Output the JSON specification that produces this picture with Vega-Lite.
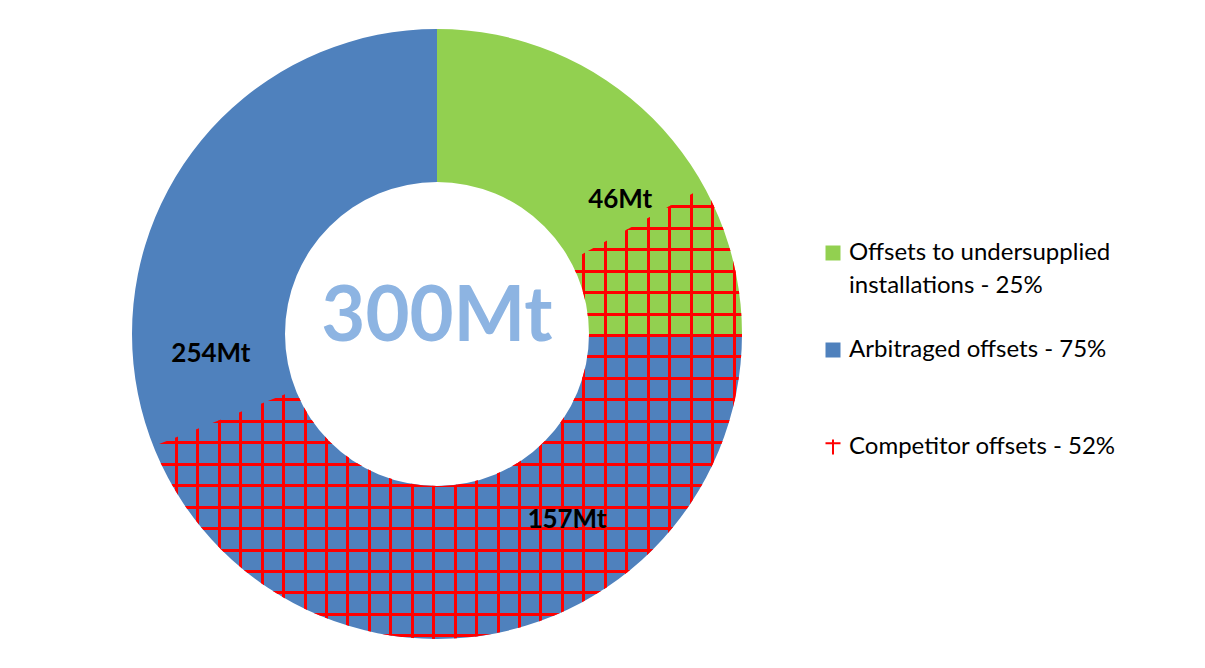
{
  "$schema": "https://vega.github.io/schema/vega-lite/v6.json",
  "width": 874,
  "height": 668,
  "autosize": {"type": "none"},
  "padding": {"left": 0, "top": 0, "right": 331, "bottom": 0},
  "background": "white",
  "config": {"view": {"stroke": null}, "font": "Lato"},
  "datasets": {
    "segments": [
      {"name": "Offsets to undersupplied installations - 25%", "start": 0, "end": 25},
      {"name": "Arbitraged offsets - 75%", "start": 25, "end": 100}
    ],
    "competitor": [
      {"name": "Competitor offsets - 52%", "start": 17, "end": 69}
    ],
    "labels": [
      {"label": "46Mt", "pos": 14.95},
      {"label": "254Mt", "pos": 73.6},
      {"label": "157Mt", "pos": 40.3}
    ],
    "total": [{"label": "300Mt"}]
  },
  "layer": [
    {
      "data": {"name": "segments"},
      "mark": {"type": "arc", "innerRadius": 152, "outerRadius": 305},
      "encoding": {
        "theta": {"field": "start", "type": "quantitative", "stack": null, "scale": {"domain": [0, 100]}},
        "theta2": {"field": "end"},
        "color": {
          "field": "name",
          "type": "nominal",
          "scale": {
            "domain": ["Offsets to undersupplied installations - 25%", "Arbitraged offsets - 75%", "Competitor offsets - 52%"],
            "range": ["#92D050", "#4F81BD", "#FF0000"]
          },
          "legend": {
            "orient": "none",
            "legendX": 821,
            "legendY": 241,
            "title": null,
            "symbolType": "square",
            "symbolSize": 225,
            "symbolStrokeWidth": 0,
            "labelFont": "Lato",
            "labelFontSize": 24,
            "labelColor": "#000000",
            "labelLimit": 0,
            "labelOffset": 4,
            "gridAlign": "all",
            "rowPadding": 40,
            "labelExpr": "datum.label === 'Offsets to undersupplied installations - 25%' ? ['Offsets to undersupplied', 'installations - 25%'] : datum.label",
            "encode": {
              "labels": {"update": {"lineHeight": {"value": 33}}},
              "symbols": {
                "update": {
                  "shape": {"signal": "datum.value === 'Competitor offsets - 52%' ? 'M-1,-0.5L1,-0.5M0,-1L0,1' : 'square'"},
                  "stroke": {"signal": "datum.value === 'Competitor offsets - 52%' ? '#FF0000' : 'transparent'"},
                  "strokeWidth": {"value": 2}
                }
              }
            }
          }
        }
      }
    },
    {
      "data": {"name": "competitor"},
      "mark": {
        "type": "arc",
        "innerRadius": 152,
        "outerRadius": 305,
        "fill": {
          "gradient": "linear", "x1": 0, "y1": 0, "x2": 1, "y2": 0,
          "stops": [
            {"offset": 0, "color": "rgba(255,0,0,0)"},
            {"offset": 0.0364, "color": "rgba(255,0,0,0)"}, {"offset": 0.0364, "color": "#FF0000"}, {"offset": 0.0415, "color": "#FF0000"}, {"offset": 0.0415, "color": "rgba(255,0,0,0)"},
            {"offset": 0.0729, "color": "rgba(255,0,0,0)"}, {"offset": 0.0729, "color": "#FF0000"}, {"offset": 0.0780, "color": "#FF0000"}, {"offset": 0.0780, "color": "rgba(255,0,0,0)"},
            {"offset": 0.1093, "color": "rgba(255,0,0,0)"}, {"offset": 0.1093, "color": "#FF0000"}, {"offset": 0.1144, "color": "#FF0000"}, {"offset": 0.1144, "color": "rgba(255,0,0,0)"},
            {"offset": 0.1458, "color": "rgba(255,0,0,0)"}, {"offset": 0.1458, "color": "#FF0000"}, {"offset": 0.1509, "color": "#FF0000"}, {"offset": 0.1509, "color": "rgba(255,0,0,0)"},
            {"offset": 0.1822, "color": "rgba(255,0,0,0)"}, {"offset": 0.1822, "color": "#FF0000"}, {"offset": 0.1873, "color": "#FF0000"}, {"offset": 0.1873, "color": "rgba(255,0,0,0)"},
            {"offset": 0.2186, "color": "rgba(255,0,0,0)"}, {"offset": 0.2186, "color": "#FF0000"}, {"offset": 0.2237, "color": "#FF0000"}, {"offset": 0.2237, "color": "rgba(255,0,0,0)"},
            {"offset": 0.2551, "color": "rgba(255,0,0,0)"}, {"offset": 0.2551, "color": "#FF0000"}, {"offset": 0.2602, "color": "#FF0000"}, {"offset": 0.2602, "color": "rgba(255,0,0,0)"},
            {"offset": 0.2915, "color": "rgba(255,0,0,0)"}, {"offset": 0.2915, "color": "#FF0000"}, {"offset": 0.2966, "color": "#FF0000"}, {"offset": 0.2966, "color": "rgba(255,0,0,0)"},
            {"offset": 0.3280, "color": "rgba(255,0,0,0)"}, {"offset": 0.3280, "color": "#FF0000"}, {"offset": 0.3331, "color": "#FF0000"}, {"offset": 0.3331, "color": "rgba(255,0,0,0)"},
            {"offset": 0.3644, "color": "rgba(255,0,0,0)"}, {"offset": 0.3644, "color": "#FF0000"}, {"offset": 0.3695, "color": "#FF0000"}, {"offset": 0.3695, "color": "rgba(255,0,0,0)"},
            {"offset": 0.4009, "color": "rgba(255,0,0,0)"}, {"offset": 0.4009, "color": "#FF0000"}, {"offset": 0.4060, "color": "#FF0000"}, {"offset": 0.4060, "color": "rgba(255,0,0,0)"},
            {"offset": 0.4373, "color": "rgba(255,0,0,0)"}, {"offset": 0.4373, "color": "#FF0000"}, {"offset": 0.4424, "color": "#FF0000"}, {"offset": 0.4424, "color": "rgba(255,0,0,0)"},
            {"offset": 0.4737, "color": "rgba(255,0,0,0)"}, {"offset": 0.4737, "color": "#FF0000"}, {"offset": 0.4788, "color": "#FF0000"}, {"offset": 0.4788, "color": "rgba(255,0,0,0)"},
            {"offset": 0.5102, "color": "rgba(255,0,0,0)"}, {"offset": 0.5102, "color": "#FF0000"}, {"offset": 0.5153, "color": "#FF0000"}, {"offset": 0.5153, "color": "rgba(255,0,0,0)"},
            {"offset": 0.5466, "color": "rgba(255,0,0,0)"}, {"offset": 0.5466, "color": "#FF0000"}, {"offset": 0.5517, "color": "#FF0000"}, {"offset": 0.5517, "color": "rgba(255,0,0,0)"},
            {"offset": 0.5831, "color": "rgba(255,0,0,0)"}, {"offset": 0.5831, "color": "#FF0000"}, {"offset": 0.5882, "color": "#FF0000"}, {"offset": 0.5882, "color": "rgba(255,0,0,0)"},
            {"offset": 0.6195, "color": "rgba(255,0,0,0)"}, {"offset": 0.6195, "color": "#FF0000"}, {"offset": 0.6246, "color": "#FF0000"}, {"offset": 0.6246, "color": "rgba(255,0,0,0)"},
            {"offset": 0.6559, "color": "rgba(255,0,0,0)"}, {"offset": 0.6559, "color": "#FF0000"}, {"offset": 0.6610, "color": "#FF0000"}, {"offset": 0.6610, "color": "rgba(255,0,0,0)"},
            {"offset": 0.6924, "color": "rgba(255,0,0,0)"}, {"offset": 0.6924, "color": "#FF0000"}, {"offset": 0.6975, "color": "#FF0000"}, {"offset": 0.6975, "color": "rgba(255,0,0,0)"},
            {"offset": 0.7288, "color": "rgba(255,0,0,0)"}, {"offset": 0.7288, "color": "#FF0000"}, {"offset": 0.7339, "color": "#FF0000"}, {"offset": 0.7339, "color": "rgba(255,0,0,0)"},
            {"offset": 0.7653, "color": "rgba(255,0,0,0)"}, {"offset": 0.7653, "color": "#FF0000"}, {"offset": 0.7704, "color": "#FF0000"}, {"offset": 0.7704, "color": "rgba(255,0,0,0)"},
            {"offset": 0.8017, "color": "rgba(255,0,0,0)"}, {"offset": 0.8017, "color": "#FF0000"}, {"offset": 0.8068, "color": "#FF0000"}, {"offset": 0.8068, "color": "rgba(255,0,0,0)"},
            {"offset": 0.8381, "color": "rgba(255,0,0,0)"}, {"offset": 0.8381, "color": "#FF0000"}, {"offset": 0.8432, "color": "#FF0000"}, {"offset": 0.8432, "color": "rgba(255,0,0,0)"},
            {"offset": 0.8746, "color": "rgba(255,0,0,0)"}, {"offset": 0.8746, "color": "#FF0000"}, {"offset": 0.8797, "color": "#FF0000"}, {"offset": 0.8797, "color": "rgba(255,0,0,0)"},
            {"offset": 0.9110, "color": "rgba(255,0,0,0)"}, {"offset": 0.9110, "color": "#FF0000"}, {"offset": 0.9161, "color": "#FF0000"}, {"offset": 0.9161, "color": "rgba(255,0,0,0)"},
            {"offset": 0.9475, "color": "rgba(255,0,0,0)"}, {"offset": 0.9475, "color": "#FF0000"}, {"offset": 0.9526, "color": "#FF0000"}, {"offset": 0.9526, "color": "rgba(255,0,0,0)"},
            {"offset": 0.9839, "color": "rgba(255,0,0,0)"}, {"offset": 0.9839, "color": "#FF0000"}, {"offset": 0.9890, "color": "#FF0000"}, {"offset": 0.9890, "color": "rgba(255,0,0,0)"},
            {"offset": 1, "color": "rgba(255,0,0,0)"}
          ]
        }
      },
      "encoding": {
        "theta": {"field": "start", "type": "quantitative", "stack": null, "scale": {"domain": [0, 100]}},
        "theta2": {"field": "end"}
      }
    },
    {
      "data": {"name": "competitor"},
      "mark": {
        "type": "arc",
        "innerRadius": 152,
        "outerRadius": 305,
        "fill": {
          "gradient": "linear", "x1": 0, "y1": 0, "x2": 0, "y2": 1,
          "stops": [
            {"offset": 0, "color": "rgba(255,0,0,0)"},
            {"offset": 0.0404, "color": "rgba(255,0,0,0)"}, {"offset": 0.0404, "color": "#FF0000"}, {"offset": 0.0470, "color": "#FF0000"}, {"offset": 0.0470, "color": "rgba(255,0,0,0)"},
            {"offset": 0.0879, "color": "rgba(255,0,0,0)"}, {"offset": 0.0879, "color": "#FF0000"}, {"offset": 0.0945, "color": "#FF0000"}, {"offset": 0.0945, "color": "rgba(255,0,0,0)"},
            {"offset": 0.1353, "color": "rgba(255,0,0,0)"}, {"offset": 0.1353, "color": "#FF0000"}, {"offset": 0.1419, "color": "#FF0000"}, {"offset": 0.1419, "color": "rgba(255,0,0,0)"},
            {"offset": 0.1828, "color": "rgba(255,0,0,0)"}, {"offset": 0.1828, "color": "#FF0000"}, {"offset": 0.1894, "color": "#FF0000"}, {"offset": 0.1894, "color": "rgba(255,0,0,0)"},
            {"offset": 0.2302, "color": "rgba(255,0,0,0)"}, {"offset": 0.2302, "color": "#FF0000"}, {"offset": 0.2368, "color": "#FF0000"}, {"offset": 0.2368, "color": "rgba(255,0,0,0)"},
            {"offset": 0.2777, "color": "rgba(255,0,0,0)"}, {"offset": 0.2777, "color": "#FF0000"}, {"offset": 0.2843, "color": "#FF0000"}, {"offset": 0.2843, "color": "rgba(255,0,0,0)"},
            {"offset": 0.3252, "color": "rgba(255,0,0,0)"}, {"offset": 0.3252, "color": "#FF0000"}, {"offset": 0.3318, "color": "#FF0000"}, {"offset": 0.3318, "color": "rgba(255,0,0,0)"},
            {"offset": 0.3726, "color": "rgba(255,0,0,0)"}, {"offset": 0.3726, "color": "#FF0000"}, {"offset": 0.3792, "color": "#FF0000"}, {"offset": 0.3792, "color": "rgba(255,0,0,0)"},
            {"offset": 0.4201, "color": "rgba(255,0,0,0)"}, {"offset": 0.4201, "color": "#FF0000"}, {"offset": 0.4267, "color": "#FF0000"}, {"offset": 0.4267, "color": "rgba(255,0,0,0)"},
            {"offset": 0.4675, "color": "rgba(255,0,0,0)"}, {"offset": 0.4675, "color": "#FF0000"}, {"offset": 0.4741, "color": "#FF0000"}, {"offset": 0.4741, "color": "rgba(255,0,0,0)"},
            {"offset": 0.5150, "color": "rgba(255,0,0,0)"}, {"offset": 0.5150, "color": "#FF0000"}, {"offset": 0.5216, "color": "#FF0000"}, {"offset": 0.5216, "color": "rgba(255,0,0,0)"},
            {"offset": 0.5625, "color": "rgba(255,0,0,0)"}, {"offset": 0.5625, "color": "#FF0000"}, {"offset": 0.5691, "color": "#FF0000"}, {"offset": 0.5691, "color": "rgba(255,0,0,0)"},
            {"offset": 0.6099, "color": "rgba(255,0,0,0)"}, {"offset": 0.6099, "color": "#FF0000"}, {"offset": 0.6165, "color": "#FF0000"}, {"offset": 0.6165, "color": "rgba(255,0,0,0)"},
            {"offset": 0.6574, "color": "rgba(255,0,0,0)"}, {"offset": 0.6574, "color": "#FF0000"}, {"offset": 0.6640, "color": "#FF0000"}, {"offset": 0.6640, "color": "rgba(255,0,0,0)"},
            {"offset": 0.7048, "color": "rgba(255,0,0,0)"}, {"offset": 0.7048, "color": "#FF0000"}, {"offset": 0.7114, "color": "#FF0000"}, {"offset": 0.7114, "color": "rgba(255,0,0,0)"},
            {"offset": 0.7523, "color": "rgba(255,0,0,0)"}, {"offset": 0.7523, "color": "#FF0000"}, {"offset": 0.7589, "color": "#FF0000"}, {"offset": 0.7589, "color": "rgba(255,0,0,0)"},
            {"offset": 0.7998, "color": "rgba(255,0,0,0)"}, {"offset": 0.7998, "color": "#FF0000"}, {"offset": 0.8064, "color": "#FF0000"}, {"offset": 0.8064, "color": "rgba(255,0,0,0)"},
            {"offset": 0.8472, "color": "rgba(255,0,0,0)"}, {"offset": 0.8472, "color": "#FF0000"}, {"offset": 0.8538, "color": "#FF0000"}, {"offset": 0.8538, "color": "rgba(255,0,0,0)"},
            {"offset": 0.8947, "color": "rgba(255,0,0,0)"}, {"offset": 0.8947, "color": "#FF0000"}, {"offset": 0.9013, "color": "#FF0000"}, {"offset": 0.9013, "color": "rgba(255,0,0,0)"},
            {"offset": 0.9421, "color": "rgba(255,0,0,0)"}, {"offset": 0.9421, "color": "#FF0000"}, {"offset": 0.9487, "color": "#FF0000"}, {"offset": 0.9487, "color": "rgba(255,0,0,0)"},
            {"offset": 0.9896, "color": "rgba(255,0,0,0)"}, {"offset": 0.9896, "color": "#FF0000"}, {"offset": 0.9962, "color": "#FF0000"}, {"offset": 0.9962, "color": "rgba(255,0,0,0)"},
            {"offset": 1, "color": "rgba(255,0,0,0)"}
          ]
        }
      },
      "encoding": {
        "theta": {"field": "start", "type": "quantitative", "stack": null, "scale": {"domain": [0, 100]}},
        "theta2": {"field": "end"}
      }
    },
    {
      "data": {"name": "labels"},
      "mark": {"type": "text", "radius": 227, "font": "Lato", "fontSize": 26, "fontWeight": "bold", "color": "#000000"},
      "encoding": {
        "theta": {"field": "pos", "type": "quantitative", "stack": null, "scale": {"domain": [0, 100]}},
        "text": {"field": "label"}
      }
    },
    {
      "data": {"name": "total"},
      "mark": {"type": "text", "font": "Lato", "fontSize": 76, "fontWeight": "bold", "color": "#8DB4E2", "dy": -16},
      "encoding": {
        "text": {"field": "label"}
      }
    }
  ]
}
